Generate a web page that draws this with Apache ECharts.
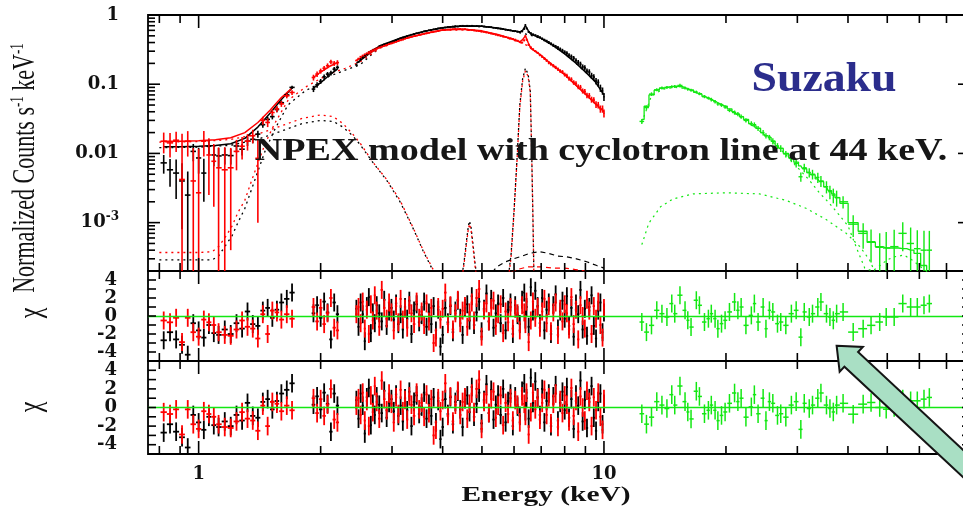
<!DOCTYPE html>
<html><head><meta charset="utf-8">
<script src="https://cdn.jsdelivr.net/npm/echarts@6/dist/echarts.min.js"></script>
<style>html,body{margin:0;padding:0;background:#fff}#c{width:963px;height:510px}</style>
</head><body><div id="c"></div>
<script>
// ---------------- DATA ----------------
// XIS (black = XIS0/3, red = XIS1) energies (keV), three segments
const xisE1 = [0.82,0.85,0.88,0.91,0.94,0.97,1.00,1.03,1.06,1.09,1.12,1.16,1.20,1.24,1.28,1.32,1.36,1.40,1.44,1.48,1.52,1.56,1.60,1.65,1.70];
const xisE2 = [1.92,1.96,2.00,2.04,2.08,2.12,2.16,2.20];
const xisE3 = [2.45,2.48,2.51,2.54,2.57,2.60,2.63,2.66,2.69,2.72,
  2.75,2.79,2.83,2.87,2.91,2.95,2.99,3.03,3.07,3.11,
  3.15,3.19,3.23,3.27,3.31,3.35,3.40,3.45,3.50,3.55,
  3.60,3.65,3.70,3.75,3.80,3.85,3.90,3.95,4.00,4.06,
  4.12,4.18,4.24,4.30,4.36,4.42,4.48,4.54,4.60,4.66,
  4.72,4.78,4.85,4.92,4.99,5.06,5.13,5.20,5.27,5.34,
  5.41,5.48,5.56,5.64,5.72,5.80,5.88,5.96,6.04,6.12,
  6.20,6.28,6.36,6.40,6.44,6.52,6.60,6.68,6.77,6.86,
  6.95,7.04,7.13,7.22,7.31,7.40,7.50,7.60,7.70,7.80,
  7.90,8.00,8.10,8.20,8.31,8.42,8.53,8.64,8.75,8.86,
  8.97,9.08,9.20,9.32,9.44,9.56,9.68,9.80,9.92,10.0];

const blackF1 = [0.0073,0.0058,0.0052,0.0040,0.0025,0.0107,0.0086,0.0052,0.0127,0.0095,0.0092,0.0095,0.0093,0.0128,0.0115,0.0150,0.0160,0.0190,0.0260,0.0310,0.0340,0.0430,0.0540,0.0700,0.0900];
const blackS1 = [0.0022,0.0025,0.0030,0.0032,0.0030,0.0030,0.0035,0.0032,0.0030,0.0030,0.0028,0.0026,0.0024,0.0025,0.0022,0.0022,0.0020,0.0022,0.0025,0.0028,0.0030,0.0035,0.0040,0.0045,0.0050];
const redF1 = [0.0150,0.0142,0.0155,0.0042,0.0150,0.0040,0.0027,0.0150,0.0095,0.0077,0.0062,0.0058,0.0062,0.0107,0.0127,0.0150,0.0180,0.0085,0.0300,0.0280,0.0390,0.0440,0.0520,0.0680,0.0760];
const redS1 = [0.0050,0.0055,0.0050,0.0150,0.0060,0.0080,0.0090,0.0060,0.0070,0.0060,0.0060,0.0065,0.0058,0.0050,0.0045,0.0040,0.0040,0.0075,0.0040,0.0040,0.0040,0.0045,0.0050,0.0055,0.0060];

const blackF2 = [0.085,0.098,0.110,0.128,0.140,0.145,0.165,0.175];
const blackS2 = [0.008,0.009,0.009,0.010,0.010,0.011,0.012,0.012];
const redF2 = [0.125,0.140,0.155,0.170,0.185,0.210,0.200,0.205];
const redS2 = [0.012,0.013,0.013,0.014,0.015,0.016,0.016,0.017];

const blackF3 = [0.19,0.21,0.23,0.245,0.26,0.275,0.29,0.30,0.315,0.325,
  0.335,0.35,0.36,0.375,0.385,0.395,0.41,0.42,0.435,0.445,
  0.46,0.47,0.48,0.495,0.505,0.52,0.53,0.545,0.555,0.565,
  0.58,0.59,0.60,0.61,0.62,0.63,0.64,0.645,0.655,0.66,
  0.67,0.675,0.68,0.69,0.685,0.695,0.70,0.69,0.70,0.695,
  0.70,0.69,0.695,0.685,0.69,0.68,0.675,0.67,0.665,0.655,
  0.65,0.64,0.635,0.625,0.615,0.605,0.60,0.59,0.585,0.575,
  0.57,0.58,0.63,0.72,0.64,0.57,0.545,0.525,0.51,0.495,
  0.475,0.455,0.435,0.42,0.40,0.385,0.365,0.35,0.335,0.32,
  0.305,0.29,0.28,0.262,0.25,0.238,0.22,0.207,0.195,0.178,
  0.172,0.155,0.15,0.133,0.127,0.111,0.106,0.088,0.080,0.066];
const redF3 = [0.22,0.235,0.25,0.26,0.27,0.28,0.29,0.30,0.31,0.32,
  0.33,0.34,0.35,0.36,0.37,0.38,0.39,0.40,0.41,0.42,
  0.43,0.44,0.455,0.465,0.475,0.485,0.495,0.505,0.515,0.525,
  0.535,0.545,0.555,0.565,0.575,0.58,0.59,0.60,0.605,0.61,
  0.615,0.62,0.625,0.63,0.625,0.63,0.62,0.625,0.615,0.61,
  0.605,0.60,0.59,0.585,0.575,0.57,0.56,0.55,0.54,0.53,
  0.52,0.51,0.50,0.49,0.48,0.47,0.46,0.45,0.44,0.425,
  0.41,0.40,0.43,0.50,0.44,0.37,0.34,0.32,0.30,0.285,
  0.265,0.25,0.235,0.22,0.205,0.195,0.185,0.175,0.165,0.155,
  0.150,0.138,0.132,0.121,0.117,0.106,0.102,0.092,0.090,0.080,
  0.078,0.069,0.068,0.060,0.059,0.051,0.050,0.044,0.044,0.038];
const xisRelErr3 = [0.02,0.02,0.02,0.02,0.02,0.02,0.02,0.02,0.02,0.02,
  0.02,0.02,0.02,0.02,0.02,0.02,0.02,0.02,0.02,0.02,
  0.02,0.02,0.02,0.02,0.02,0.02,0.02,0.02,0.02,0.02,
  0.025,0.025,0.025,0.025,0.025,0.025,0.025,0.025,0.025,0.025,
  0.025,0.025,0.025,0.025,0.025,0.025,0.025,0.025,0.025,0.025,
  0.025,0.025,0.025,0.025,0.025,0.025,0.025,0.025,0.025,0.025,
  0.03,0.03,0.03,0.03,0.03,0.03,0.03,0.03,0.03,0.03,
  0.03,0.03,0.03,0.03,0.03,0.03,0.03,0.03,0.03,0.03,
  0.04,0.04,0.045,0.045,0.05,0.05,0.055,0.055,0.06,0.06,
  0.065,0.065,0.07,0.07,0.075,0.075,0.08,0.08,0.085,0.085,
  0.09,0.09,0.095,0.10,0.10,0.11,0.11,0.12,0.12,0.13];

// residuals (chi) XIS
const blackChi1 = [-2.7,-1.8,-2.6,-3.2,-4.3,-0.8,-1.6,-2.4,-1.0,-1.9,-2.1,-1.5,-2.0,-0.8,-1.4,0.5,-0.9,-1.1,0.6,0.9,-0.2,0.7,1.5,1.9,2.6];
const redChi1 = [-0.5,-0.7,-0.2,-2.9,-0.2,-1.8,-2.3,-0.4,-0.7,-1.0,-1.8,-2.1,-2.2,-1.5,-0.5,-1.2,-1.4,-2.5,0.2,-2.0,0.6,0.4,-0.4,0.2,-0.3];
const blackChi2 = [0.3,1.2,-0.2,1.6,0.4,-2.6,1.5,0.2];
const redChi2 = [1.0,-0.6,0.9,-0.9,0.3,2.0,-1.3,-1.6];
const blackChi3 = [0.8,-1.2,1.5,0.2,-2.8,1.1,2.1,-1.9,0.4,-0.8,
  1.2,0.3,-0.6,1.8,-1.1,0.5,0.9,-0.4,1.4,-0.9,
  0.2,-1.5,1.0,-0.3,1.7,-2.0,0.6,1.3,-0.7,0.1,
  1.6,-1.2,0.4,-0.9,1.1,-1.6,0.7,-3.4,-2.1,0.9,
  -0.7,1.1,-1.8,0.6,1.7,-0.2,-2.1,0.9,1.3,-0.5,
  2.2,-1.0,0.4,1.6,-1.7,0.8,2.5,-0.6,1.9,-1.3,
  0.3,1.4,-0.8,2.0,-1.6,0.7,1.5,-2.0,1.2,0.1,
  -0.9,1.8,2.6,-0.4,1.0,-1.2,3.2,0.5,2.8,1.1,
  -0.8,2.0,-1.6,0.7,1.5,-2.0,1.2,2.4,-1.4,0.5,
  1.7,-0.3,2.2,-1.1,0.9,-2.3,1.4,0.2,2.9,-1.5,
  0.8,-2.2,1.0,2.3,-1.1,-2.5,0.6,1.5,-1.8,0.4];
const redChi3 = [0.2,1.0,-0.8,1.6,-1.4,0.7,-2.0,1.3,-0.5,2.3,
  0.6,-1.2,2.9,0.9,-0.3,1.5,0.4,-1.6,1.1,-0.7,
  1.9,-0.4,0.8,-1.3,1.2,0.3,-0.9,1.6,-0.2,0.5,
  -1.0,1.4,-0.6,0.9,-3.0,-2.4,1.0,-0.4,0.8,2.6,
  -0.9,1.2,-1.5,0.3,1.8,-0.8,0.6,1.1,-1.2,0.4,
  1.5,-0.5,2.0,3.0,-2.3,0.6,1.4,-0.6,0.9,1.7,
  -1.1,0.2,1.3,-1.9,0.5,-0.7,1.0,-1.4,0.8,0.3,
  -1.6,1.2,0.4,-0.9,1.6,-2.9,-0.5,1.6,-0.2,1.0,
  -1.3,0.5,1.9,-0.8,1.1,-1.7,0.4,1.5,-2.1,0.8,
  -0.6,1.3,0.3,-1.5,2.1,-0.9,0.7,-2.6,1.2,0.0,
  -1.4,1.8,0.6,-2.0,1.1,-0.3,1.6,-1.0,-2.4,0.9];

// XIS folded models (solid)
const modE1 = [0.82,0.9,1.0,1.1,1.2,1.3,1.4,1.5,1.6,1.7];
const modBlack1 = [0.0125,0.0125,0.0127,0.013,0.0138,0.0165,0.024,0.038,0.060,0.088];
const modRed1 = [0.0150,0.0150,0.0152,0.0157,0.0168,0.020,0.028,0.042,0.064,0.088];
const modE2 = [1.92,2.0,2.1,2.2];
const modBlack2 = [0.088,0.105,0.135,0.165];
const modRed2 = [0.125,0.15,0.18,0.205];
const modE3 = [2.45,2.8,3.2,3.6,4.0,4.5,5.0,5.5,6.0,6.2,6.3,6.4,6.5,6.6,7.0,7.5,8.0,8.5,9.0,9.5,10.0];
const modBlack3 = [0.20,0.36,0.48,0.58,0.655,0.695,0.69,0.645,0.585,0.57,0.60,0.70,0.60,0.53,0.46,0.36,0.275,0.205,0.15,0.11,0.07];
const modRed3 = [0.22,0.34,0.45,0.535,0.605,0.62,0.59,0.52,0.44,0.41,0.44,0.50,0.40,0.33,0.26,0.185,0.138,0.098,0.072,0.053,0.040];

// model components (dotted / dashed)
const compAE = [0.80,0.9,1.0,1.08,1.12,1.16,1.21,1.25,1.30,1.35,1.40,1.46,1.54,1.66,1.83,1.97,2.1,2.3,2.5,2.8,3.2,3.6,4.0,4.5,5.0,5.5,6.0,6.5,7.0,7.5,8.0,8.5,9.0,9.5,10.0];
const compARed = [3.7e-4,3.7e-4,3.7e-4,3.8e-4,4.5e-4,6e-4,9e-4,1.4e-3,2.1e-3,4e-3,7.2e-3,0.014,0.027,0.058,0.09,0.115,0.14,0.17,0.21,0.33,0.45,0.53,0.60,0.61,0.58,0.51,0.43,0.36,0.26,0.185,0.138,0.098,0.072,0.053,0.040];
const compABlack = [2.9e-4,2.9e-4,2.9e-4,2.9e-4,3.3e-4,4.5e-4,6.5e-4,1.0e-3,1.6e-3,3e-3,5.5e-3,0.011,0.022,0.05,0.08,0.10,0.13,0.16,0.19,0.34,0.48,0.58,0.65,0.69,0.69,0.645,0.58,0.52,0.46,0.36,0.275,0.205,0.15,0.11,0.07];
const compBE = [0.80,1.0,1.2,1.4,1.6,1.8,2.0,2.15,2.27,2.4,2.5,2.7,2.91,3.14,3.38,3.58,3.76,3.9];
const compBRed = [0.0146,0.0148,0.0159,0.019,0.025,0.032,0.036,0.034,0.027,0.019,0.0142,0.0073,0.0042,0.0021,8.5e-4,4e-4,2.3e-4,1.5e-4];
const compBBlack = [0.0121,0.0123,0.0131,0.016,0.021,0.027,0.030,0.029,0.024,0.018,0.0135,0.0072,0.0041,0.0020,8.3e-4,3.9e-4,2.2e-4,1.4e-4];
const compCE = [4.45,4.52,4.58,4.63,4.66,4.70,4.75,4.81,4.88];
const compCBlack = [1.5e-4,2.8e-4,5.5e-4,9e-4,1.05e-3,8.5e-4,5e-4,2.5e-4,1.4e-4];
const compCRed = [1.4e-4,2.6e-4,5e-4,8.2e-4,9.5e-4,7.8e-4,4.6e-4,2.3e-4,1.3e-4];
const compDE = [5.80,5.90,6.00,6.10,6.20,6.30,6.40,6.50,6.58,6.63,6.68,6.72];
const compDBlack = [1.5e-4,3.5e-4,1.5e-3,8e-3,0.05,0.12,0.17,0.14,0.08,0.012,1.2e-3,1.5e-4];
const compDRed = [1.4e-4,3.2e-4,1.4e-3,7.5e-3,0.046,0.11,0.155,0.13,0.075,0.011,1.1e-3,1.4e-4];
const compEBlackE = [5.3,5.44,5.7,5.98,6.3,6.56,6.94,7.3,7.66,8.1,8.55,9.1,9.6,10.0];
const compEBlack = [1.9e-4,2.3e-4,2.7e-4,3.0e-4,3.3e-4,3.6e-4,3.8e-4,3.6e-4,3.3e-4,3.2e-4,3.0e-4,2.7e-4,2.4e-4,2.2e-4];
const compERedE = [5.9,6.1,6.5,7.0,7.5,8.0,8.5,9.0];
const compERed = [1.9e-4,2.1e-4,2.3e-4,2.3e-4,2.2e-4,2.2e-4,2.1e-4,2.0e-4];

// HXD-PIN (green)
const pinE = [12.4,12.73,13.1,13.5,13.9,14.3,14.7,14.95,15.4,15.85,16.1,16.4,16.9,17.2,17.7,18.1,18.4,18.8,19.1,19.5,19.9,20.4,21.0,21.4,21.8,22.4,23.1,23.5,24.0,24.7,25.1,25.6,26.1,26.8,27.3,28.1,29.0,29.8,30.6,31.2,32.1,32.7,33.7,34.3,35.4,36.1,36.8,37.5,38.9,41.2,43.6,45.6,47.9,49.7,52.0,54.6,57.1,59.3,61.6,63.5];
const pinF = [0.029,0.046,0.072,0.083,0.088,0.090,0.092,0.093,0.096,0.088,0.085,0.082,0.077,0.073,0.066,0.063,0.060,0.056,0.052,0.050,0.047,0.042,0.039,0.037,0.034,0.030,0.027,0.026,0.023,0.020,0.018,0.017,0.015,0.0128,0.0118,0.0098,0.0085,0.0072,0.0046,0.0062,0.0053,0.0050,0.0045,0.0040,0.0033,0.0028,0.0025,0.0023,0.0020,0.00095,0.0007,0.00053,0.00044,0.00043,0.00045,0.0007,0.0005,0.00042,0.0004,0.0004];
const pinRelErr = [0.08,0.07,0.06,0.05,0.05,0.05,0.05,0.05,0.06,0.05,0.05,0.05,0.05,0.05,0.05,0.05,0.06,0.06,0.06,0.06,0.06,0.06,0.07,0.07,0.07,0.07,0.08,0.08,0.08,0.09,0.09,0.09,0.10,0.10,0.11,0.11,0.12,0.13,0.15,0.14,0.15,0.16,0.17,0.18,0.20,0.22,0.24,0.26,0.20,0.35,0.40,0.50,0.60,0.70,0.75,0.45,0.70,0.85,0.90,0.90];
const pinModel = [0.031,0.048,0.070,0.082,0.088,0.091,0.092,0.093,0.092,0.089,0.086,0.082,0.076,0.072,0.067,0.063,0.060,0.057,0.054,0.051,0.048,0.044,0.040,0.037,0.034,0.031,0.027,0.025,0.023,0.020,0.018,0.017,0.015,0.013,0.0118,0.010,0.0087,0.0075,0.0066,0.0060,0.0053,0.0049,0.0043,0.0039,0.0033,0.0029,0.0026,0.0023,0.0019,0.0010,0.00075,0.00052,0.00045,0.00043,0.00043,0.00042,0.00040,0.00036,0.00024,0.00018];
const pinChiNoCyc = [-0.67,-1.79,-1.04,0.63,0.26,-0.11,1.38,0.26,2.31,0.63,-0.48,-1.23,1.75,1.19,-0.67,-0.30,0.26,-0.30,-1.41,-0.85,-0.48,0.45,1.56,0.63,1.00,-1.04,0.07,1.38,-0.67,1.00,-1.41,0.63,0.45,-0.85,-0.67,-1.04,0.26,0.63,-2.35,0.45,-0.11,0.26,1.00,1.56,0.26,-0.11,-0.48,0.26,0.45,-1.79,-1.41,-1.04,-0.67,-0.11,-0.11,1.38,1.00,1.00,1.19,1.38];
const pinChiCyc = [-0.67,-1.79,-1.04,0.63,0.26,-0.11,1.38,0.26,2.31,0.63,-0.48,-1.23,1.75,1.19,-0.67,-0.30,0.26,-0.30,-1.41,-0.85,-0.48,0.45,1.56,0.63,1.00,-1.04,0.07,1.38,-0.67,1.00,-1.41,0.63,0.45,-0.85,-0.67,-1.04,0.26,0.63,-2.35,0.45,-0.11,0.26,1.00,1.56,0.26,-0.11,-0.48,0.26,0.45,-0.72,0.36,0.54,0.00,-0.18,0.00,0.90,0.72,0.72,0.90,1.08];
const pinCompFE = [12.4,12.9,13.8,14.8,16.6,20.0,24.2,28.1,31.6,35.4,39.6,42.8,45.2,46.5];
const pinCompF = [4.8e-4,9.8e-4,1.7e-3,2.2e-3,2.6e-3,2.7e-3,2.6e-3,2.1e-3,1.6e-3,1.1e-3,7e-4,4.5e-4,2.9e-4,2.0e-4];
const pinCompGE = [12.4,13.1,14,15,16,18,20,22,24,26,28,30,32,34,36,38,40,42,44,46,48,50,52,55,58,61,64];
const pinCompG = [0.028,0.068,0.085,0.09,0.087,0.065,0.046,0.032,0.022,0.015,0.0098,0.0063,0.0042,0.0027,0.0019,0.0013,9e-4,4.3e-4,2.2e-4,2.0e-4,2.4e-4,2.9e-4,3.2e-4,3.4e-4,2.8e-4,2.2e-4,1.8e-4];

// axis ticks
const xTickVals = [0.8,0.9,1,2,3,4,5,6,7,8,9,10,20,30,40,50,60,70,80];
const yTopTickVals = [3e-4,4e-4,5e-4,6e-4,7e-4,8e-4,9e-4,1e-3,2e-3,3e-3,4e-3,5e-3,6e-3,7e-3,8e-3,9e-3,0.01,0.02,0.03,0.04,0.05,0.06,0.07,0.08,0.09,0.1,0.2,0.3,0.4,0.5,0.6,0.7,0.8,0.9,1];
const yResTickVals = [-4,-3,-2,-1,0,1,2,3,4];
const yResLabels = [-4,-2,0,2,4];

// ---------------- HELPERS ----------------
const BLACK='#000000', RED='#ff0000', GREEN='#13e813';
const isDecade = v => Math.abs(Math.log10(v) - Math.round(Math.log10(v))) < 1e-6;
function edges(E){ const lo=[],hi=[]; for(let i=0;i<E.length;i++){ const prev=i>0?E[i-1]:E[i]*E[i]/E[i+1]; const next=i<E.length-1?E[i+1]:E[i]*E[i]/E[i-1]; lo.push(Math.sqrt(prev*E[i])); hi.push(Math.sqrt(E[i]*next)); } return {lo,hi}; }
function crossData(E, y, sig){ const {lo,hi}=edges(E); return E.map((e,i)=>[e,y[i],lo[i],hi[i],y[i]-sig[i],y[i]+sig[i]]); }
function resData(E, chi){ const {lo,hi}=edges(E); return E.map((e,i)=>[e,chi[i],lo[i],hi[i],chi[i]-1,chi[i]+1]); }
function crossSeries(data, color, gi, isLog, lw, z){
  return {type:'custom', coordinateSystem:'cartesian2d', xAxisIndex:gi, yAxisIndex:gi, clip:true, silent:true, z:z||3,
    encode:{x:0,y:1}, data,
    renderItem(params, api){
      const e=api.value(0), y=api.value(1), el=api.value(2), eh=api.value(3);
      let yl=api.value(4), yh=api.value(5);
      if(isLog && yl<=1e-7) yl=1e-7;
      const p=api.coord([e,y]), a=api.coord([el,y]), b=api.coord([eh,y]), c=api.coord([e,yl]), d=api.coord([e,yh]);
      const st={stroke:color, lineWidth:lw};
      return {type:'group', children:[
        {type:'line', shape:{x1:a[0],y1:p[1],x2:b[0],y2:p[1]}, style:st},
        {type:'line', shape:{x1:p[0],y1:c[1],x2:p[0],y2:d[1]}, style:st}]};
    }};
}
function lineS(E, F, color, gi, type, w, z, step){
  return {type:'line', xAxisIndex:gi, yAxisIndex:gi, data:E.map((e,i)=>[e,F[i]]), showSymbol:false, symbol:'none', silent:true, clip:true,
    step: step||false, lineStyle:{color, width:w, type}, z:z||2};
}
function xTickSeries(gi, yRef){
  return {type:'custom', coordinateSystem:'cartesian2d', xAxisIndex:gi, yAxisIndex:gi, silent:true, clip:false, z:10,
    encode:{x:0,y:1}, data:xTickVals.map(v=>[v,yRef,isDecade(v)?1:0]),
    renderItem(params, api){
      const cs=params.coordSys; const x=api.coord([api.value(0),api.value(1)])[0]; const L=api.value(2)?13:8;
      const st={stroke:'#000',lineWidth:1.6};
      return {type:'group', children:[
        {type:'line',shape:{x1:x,y1:cs.y+cs.height,x2:x,y2:cs.y+cs.height-L},style:st},
        {type:'line',shape:{x1:x,y1:cs.y,x2:x,y2:cs.y+L},style:st}]};
    }};
}
function yTickSeries(gi, vals, majorFn, Lmaj, Lmin){
  return {type:'custom', coordinateSystem:'cartesian2d', xAxisIndex:gi, yAxisIndex:gi, silent:true, clip:false, z:10,
    encode:{x:0,y:1}, data:vals.map(v=>[1,v,majorFn(v)?1:0]),
    renderItem(params, api){
      const cs=params.coordSys; const y=api.coord([api.value(0),api.value(1)])[1]; const L=api.value(2)?Lmaj:Lmin;
      const st={stroke:'#000',lineWidth:1.6};
      return {type:'group', children:[
        {type:'line',shape:{x1:cs.x,y1:y,x2:cs.x+L,y2:y},style:st},
        {type:'line',shape:{x1:cs.x+cs.width,y1:y,x2:cs.x+cs.width-L,y2:y},style:st}]};
    }};
}
const labFont = {fontFamily:'DejaVu Serif', fontWeight:'bold', fontSize:18, color:'#111'};

// ---------------- CHART ----------------
const chart = echarts.init(document.getElementById('c'), null, {renderer:'canvas'});
const gridBase = {left:148, right:-7, show:true, borderColor:'#000', borderWidth:1.8, backgroundColor:'transparent', outerBoundsMode:'none', containLabel:false};
const xAx = gi => ({type:'log', logBase:10, gridIndex:gi, min:0.75, max:80,
  axisLine:{show:false}, axisTick:{show:false}, splitLine:{show:false}, minorTick:{show:false}, minorSplitLine:{show:false},
  axisLabel:Object.assign({show:gi===2, margin:11, showMinLabel:false, showMaxLabel:false,
    formatter:v=>{ if(!isDecade(v)) return ''; const k=Math.round(Math.log10(v)); return k===0?'1':(k===1?'10':''); }}, labFont)});
const yRes = gi => ({type:'value', gridIndex:gi, min:-5, max:5, interval:1,
  axisLine:{show:false}, axisTick:{show:false}, splitLine:{show:false},
  axisLabel:Object.assign({margin:31, formatter:v=> yResLabels.includes(v)? String(v):''}, labFont)});

const seriesList = [
  // components top panel
  lineS(compAE, compABlack, BLACK, 0, [2,4], 1.3, 1),
  lineS(compAE, compARed, RED, 0, [2,4], 1.3, 1),
  lineS(compBE, compBBlack, BLACK, 0, [2,4], 1.3, 1),
  lineS(compBE, compBRed, RED, 0, [2,4], 1.3, 1),
  lineS(compCE, compCBlack, BLACK, 0, [2,3], 1.3, 1),
  lineS(compCE, compCRed, RED, 0, [2,3], 1.3, 1),
  lineS(compDE, compDBlack, BLACK, 0, [2,3], 1.3, 1),
  lineS(compDE, compDRed, RED, 0, [2,3], 1.3, 1),
  lineS(compEBlackE, compEBlack, BLACK, 0, [5,4], 1.2, 1),
  lineS(compERedE, compERed, RED, 0, [5,4], 1.2, 1),
  lineS(pinCompFE, pinCompF, GREEN, 0, [2,4], 1.2, 1),
  lineS(pinCompGE, pinCompG, GREEN, 0, [2,4], 1.2, 1),
  // folded models
  lineS(modE1, modBlack1, BLACK, 0, 'solid', 1.5, 2),
  lineS(modE2, modBlack2, BLACK, 0, 'solid', 1.5, 2),
  lineS(modE3, modBlack3, BLACK, 0, 'solid', 1.5, 2),
  lineS(modE1, modRed1, RED, 0, 'solid', 1.5, 2),
  lineS(modE2, modRed2, RED, 0, 'solid', 1.5, 2),
  lineS(modE3, modRed3, RED, 0, 'solid', 1.5, 2),
  lineS(pinE, pinModel, GREEN, 0, 'solid', 1.3, 2, 'middle'),
  // data crosses top panel
  crossSeries([].concat(crossData(xisE1,blackF1,blackS1), crossData(xisE2,blackF2,blackS2), crossData(xisE3,blackF3,blackF3.map((v,i)=>v*xisRelErr3[i]))), BLACK, 0, true, 1.6, 3),
  crossSeries([].concat(crossData(xisE1,redF1,redS1), crossData(xisE2,redF2,redS2), crossData(xisE3,redF3,redF3.map((v,i)=>v*xisRelErr3[i]))), RED, 0, true, 1.6, 4),
  crossSeries(crossData(pinE,pinF,pinF.map((v,i)=>v*pinRelErr[i])), GREEN, 0, true, 1.4, 4),
];
// residual panels
[1,2].forEach(gi=>{
  seriesList.push(crossSeries([].concat(resData(xisE1,blackChi1), resData(xisE2,blackChi2), resData(xisE3,blackChi3)), BLACK, gi, false, 1.8, 3));
  seriesList.push(crossSeries([].concat(resData(xisE1,redChi1), resData(xisE2,redChi2), resData(xisE3,redChi3)), RED, gi, false, 1.8, 4));
  const g = crossSeries(resData(pinE, gi===1?pinChiNoCyc:pinChiCyc), GREEN, gi, false, 1.5, 5);
  g.markLine = {symbol:'none', silent:true, label:{show:false}, animation:false, lineStyle:{color:GREEN, type:'solid', width:1.3}, data:[{yAxis:0}], z:6};
  seriesList.push(g);
});
// ticks
seriesList.push(xTickSeries(0, 0.01), xTickSeries(1, 0), xTickSeries(2, 0));
seriesList.push(yTickSeries(0, yTopTickVals, isDecade, 12, 7));
seriesList.push(yTickSeries(1, yResTickVals, v=>true, 8, 8));
seriesList.push(yTickSeries(2, yResTickVals, v=>true, 8, 8));

chart.setOption({
  animation:false,
  backgroundColor:'#ffffff',
  grid:[Object.assign({top:15, height:256}, gridBase), Object.assign({top:271, height:90}, gridBase), Object.assign({top:361, height:93}, gridBase)],
  xAxis:[xAx(0), xAx(1), xAx(2)],
  yAxis:[
    {type:'log', logBase:10, gridIndex:0, min:2e-4, max:1,
      axisLine:{show:false}, axisTick:{show:false}, splitLine:{show:false}, minorTick:{show:false},
      axisLabel:Object.assign({margin:29, showMinLabel:false,
        formatter:v=>{ if(!isDecade(v)) return ''; const k=Math.round(Math.log10(v)); if(k===0) return '1'; if(k===-1) return '0.1'; if(k===-2) return '0.01'; if(k===-3) return '{n|10}{s|-3}'; return ''; },
        rich:{n:{fontFamily:'DejaVu Serif', fontWeight:'bold', fontSize:18, color:'#111', lineHeight:24}, s:{fontFamily:'DejaVu Serif', fontWeight:'bold', fontSize:12, color:'#111', verticalAlign:'top'}}}, labFont)},
    yRes(1), yRes(2)
  ],
  series: seriesList
});

// annotations
const tip = chart.convertToPixel({gridIndex:1}, [37.5, -3.3]);
const ang = 43*Math.PI/180, d=[Math.cos(ang), Math.sin(ang)], n=[-d[1], d[0]];
const hL=20, hW=17, sW=10, L=280;
const B=[tip[0]+hL*d[0], tip[1]+hL*d[1]];
const P=(b,s,t)=>[b[0]+s*n[0]+t*d[0], b[1]+s*n[1]+t*d[1]];
const arrowPts=[tip, P(B,-hW,0), P(B,-sW,0), P(B,-sW,L), P(B,sW,L), P(B,sW,0), P(B,hW,0)];

chart.setOption({graphic:[
  {type:'text', x:26, y:168, rotation:Math.PI/2, scaleY:1.4, z:50,
    style:{text:'{a|Normalized Counts s}{b|-1}{a| keV}{b|-1}', align:'center', verticalAlign:'middle',
      rich:{a:{fontFamily:'Liberation Serif', fontSize:22, fill:'#111', lineHeight:24}, b:{fontFamily:'Liberation Serif', fontSize:13, fill:'#111', verticalAlign:'top'}}}},
  {type:'text', x:32, y:313, rotation:Math.PI/2, scaleY:1.3, z:50, style:{text:'χ', font:'24px "Liberation Serif"', fill:'#111', align:'center', verticalAlign:'middle'}},
  {type:'text', x:32, y:407, rotation:Math.PI/2, scaleY:1.3, z:50, style:{text:'χ', font:'24px "Liberation Serif"', fill:'#111', align:'center', verticalAlign:'middle'}},
  {type:'text', x:546, y:496, scaleX:1.4, z:50, style:{text:'Energy (keV)', font:'bold 21px "Liberation Serif"', fill:'#111', align:'center', verticalAlign:'middle'}},
  {type:'text', x:601, y:152, scaleX:1.19, z:60, style:{text:'NPEX model with cyclotron line at 44 keV.', font:'bold 32px "Liberation Serif"', fill:'#161616', align:'center', verticalAlign:'middle'}},
  {type:'text', x:824, y:80, scaleX:1.09, z:60, style:{text:'Suzaku', font:'bold 42px "Liberation Serif"', fill:'#2b2d8c', align:'center', verticalAlign:'middle'}},
  {type:'polygon', z:70, shape:{points:arrowPts}, style:{fill:'#a9dfc4', stroke:'#151515', lineWidth:2}}
]});
</script></body></html>
